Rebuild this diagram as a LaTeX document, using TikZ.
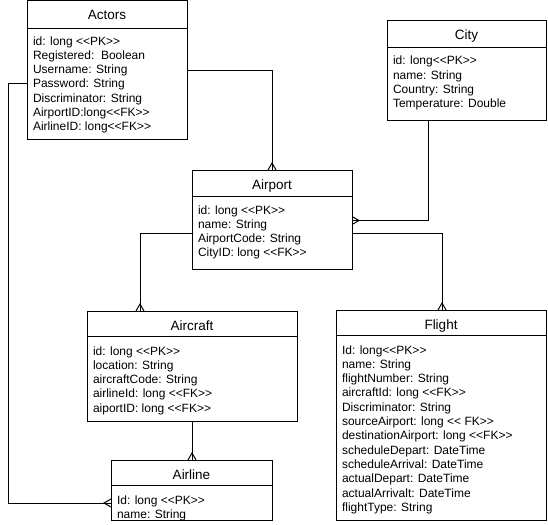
\documentclass[tikz,border=0pt]{standalone}
\usepackage{fontspec}
\setmainfont{Liberation Sans}
\begin{document}
\begin{tikzpicture}[x=1pt,y=1pt,line width=1pt,
  box/.style={draw, rectangle, inner sep=0pt, outer sep=0pt, anchor=north west},
  ttl/.style={font=\fontsize{13.5}{16}\selectfont, inner sep=0pt, anchor=base},
  att/.style={font=\fontsize{12}{14.3}\selectfont, align=left, inner sep=0pt, anchor=north west},
  link/.style={draw, line width=1pt}]
\useasboundingbox (0,0) rectangle (548,-524);
% name, x, y, w, h, header height, title, attributes
\newcommand\entity[8]{%
  \node[box, minimum width=#4pt, minimum height=#5pt] (#1) at (#2,-#3) {};
  \draw ([yshift=-#6pt]#1.north west) -- ([yshift=-#6pt]#1.north east);
  \node[ttl] at ([yshift=-19pt]#1.north) {#7};
  \node[att] at ([xshift=5.5pt,yshift=-34.5pt]#1.north west) {\rule{0pt}{9pt}#8};
}
\newcommand\crowN[1]{\draw ([xshift=-4pt]#1) -- ([yshift=7pt]#1) -- ([xshift=4pt]#1);}
\newcommand\crowE[1]{\draw ([yshift=4pt]#1) -- ([xshift=7pt]#1) -- ([yshift=-4pt]#1);}
\newcommand\crowW[1]{\draw ([yshift=4pt]#1) -- ([xshift=-7pt]#1) -- ([yshift=-4pt]#1);}

\entity{actors}{27}{1}{160}{138}{28}{Actors}{id: long <{}<PK>{}>\\Registered:\ \ Boolean\\Username: String\\Password: String\\Discriminator: String\\AirportID:long<{}<FK>{}>\\AirlineID: long<{}<FK>{}>}
\entity{city}{387}{21}{159}{99}{27}{City}{id: long<{}<PK>{}>\\name: String\\Country: String\\Temperature: Double}
\entity{airport}{192}{170}{160}{99}{26}{Airport}{id: long <{}<PK>{}>\\name: String\\AirportCode: String\\CityID: long <{}<FK>{}>}
\entity{aircraft}{87}{311}{210}{110}{25}{Aircraft}{id: long <{}<PK>{}>\\location: String\\aircraftCode: String\\airlineId: long <{}<FK>{}>\\aiportID: long <{}<FK>{}>}
\entity{flight}{336}{310}{210}{210}{25}{Flight}{Id: long<{}<PK>{}>\\name: String\\flightNumber: String\\aircraftId: long <{}<FK>{}>\\Discriminator: String\\sourceAirport: long <{}< FK>{}>\\destinationAirport: long <{}<FK>{}>\\scheduleDepart: DateTime\\scheduleArrival: DateTime\\actualDepart: DateTime\\actualArrivalt: DateTime\\flightType: String}
\entity{airline}{111}{460}{161}{60}{25}{Airline}{Id: long <{}<PK>{}>\\name: String}

% Actors -> Airport
\coordinate (b1) at (272,-70.5);
\coordinate (e1) at (b1 |- airport.north);
\draw[link] (actors.east |- b1) -- (b1) -- (e1);
\crowN{e1}
% City -> Airport
\coordinate (b2) at (428,-220.5);
\coordinate (e2) at (airport.east |- b2);
\draw[link] (b2 |- city.south) -- (b2) -- (e2);
\crowE{e2}
% Airport -> Aircraft
\coordinate (b3) at (140,-233);
\coordinate (e3) at (b3 |- aircraft.north);
\draw[link] (airport.west |- b3) -- (b3) -- (e3);
\crowN{e3}
% Airport -> Flight
\coordinate (b4) at (442,-233);
\coordinate (e4) at (b4 |- flight.north);
\draw[link] (airport.east |- b4) -- (b4) -- (e4);
\crowN{e4}
% Aircraft -> Airline
\coordinate (b5) at (192,-440);
\coordinate (s5) at (b5 |- aircraft.south);
\coordinate (e5) at (b5 |- airline.north);
\draw[link] (s5) -- (e5);
\crowN{e5}
% Actors -> Airline
\coordinate (b6a) at (8,-84);
\coordinate (b6b) at (8,-503);
\coordinate (e6) at (airline.west |- b6b);
\draw[link] (actors.west |- b6a) -- (b6a) -- (b6b) -- (e6);
\crowW{e6}
\end{tikzpicture}
\end{document}
